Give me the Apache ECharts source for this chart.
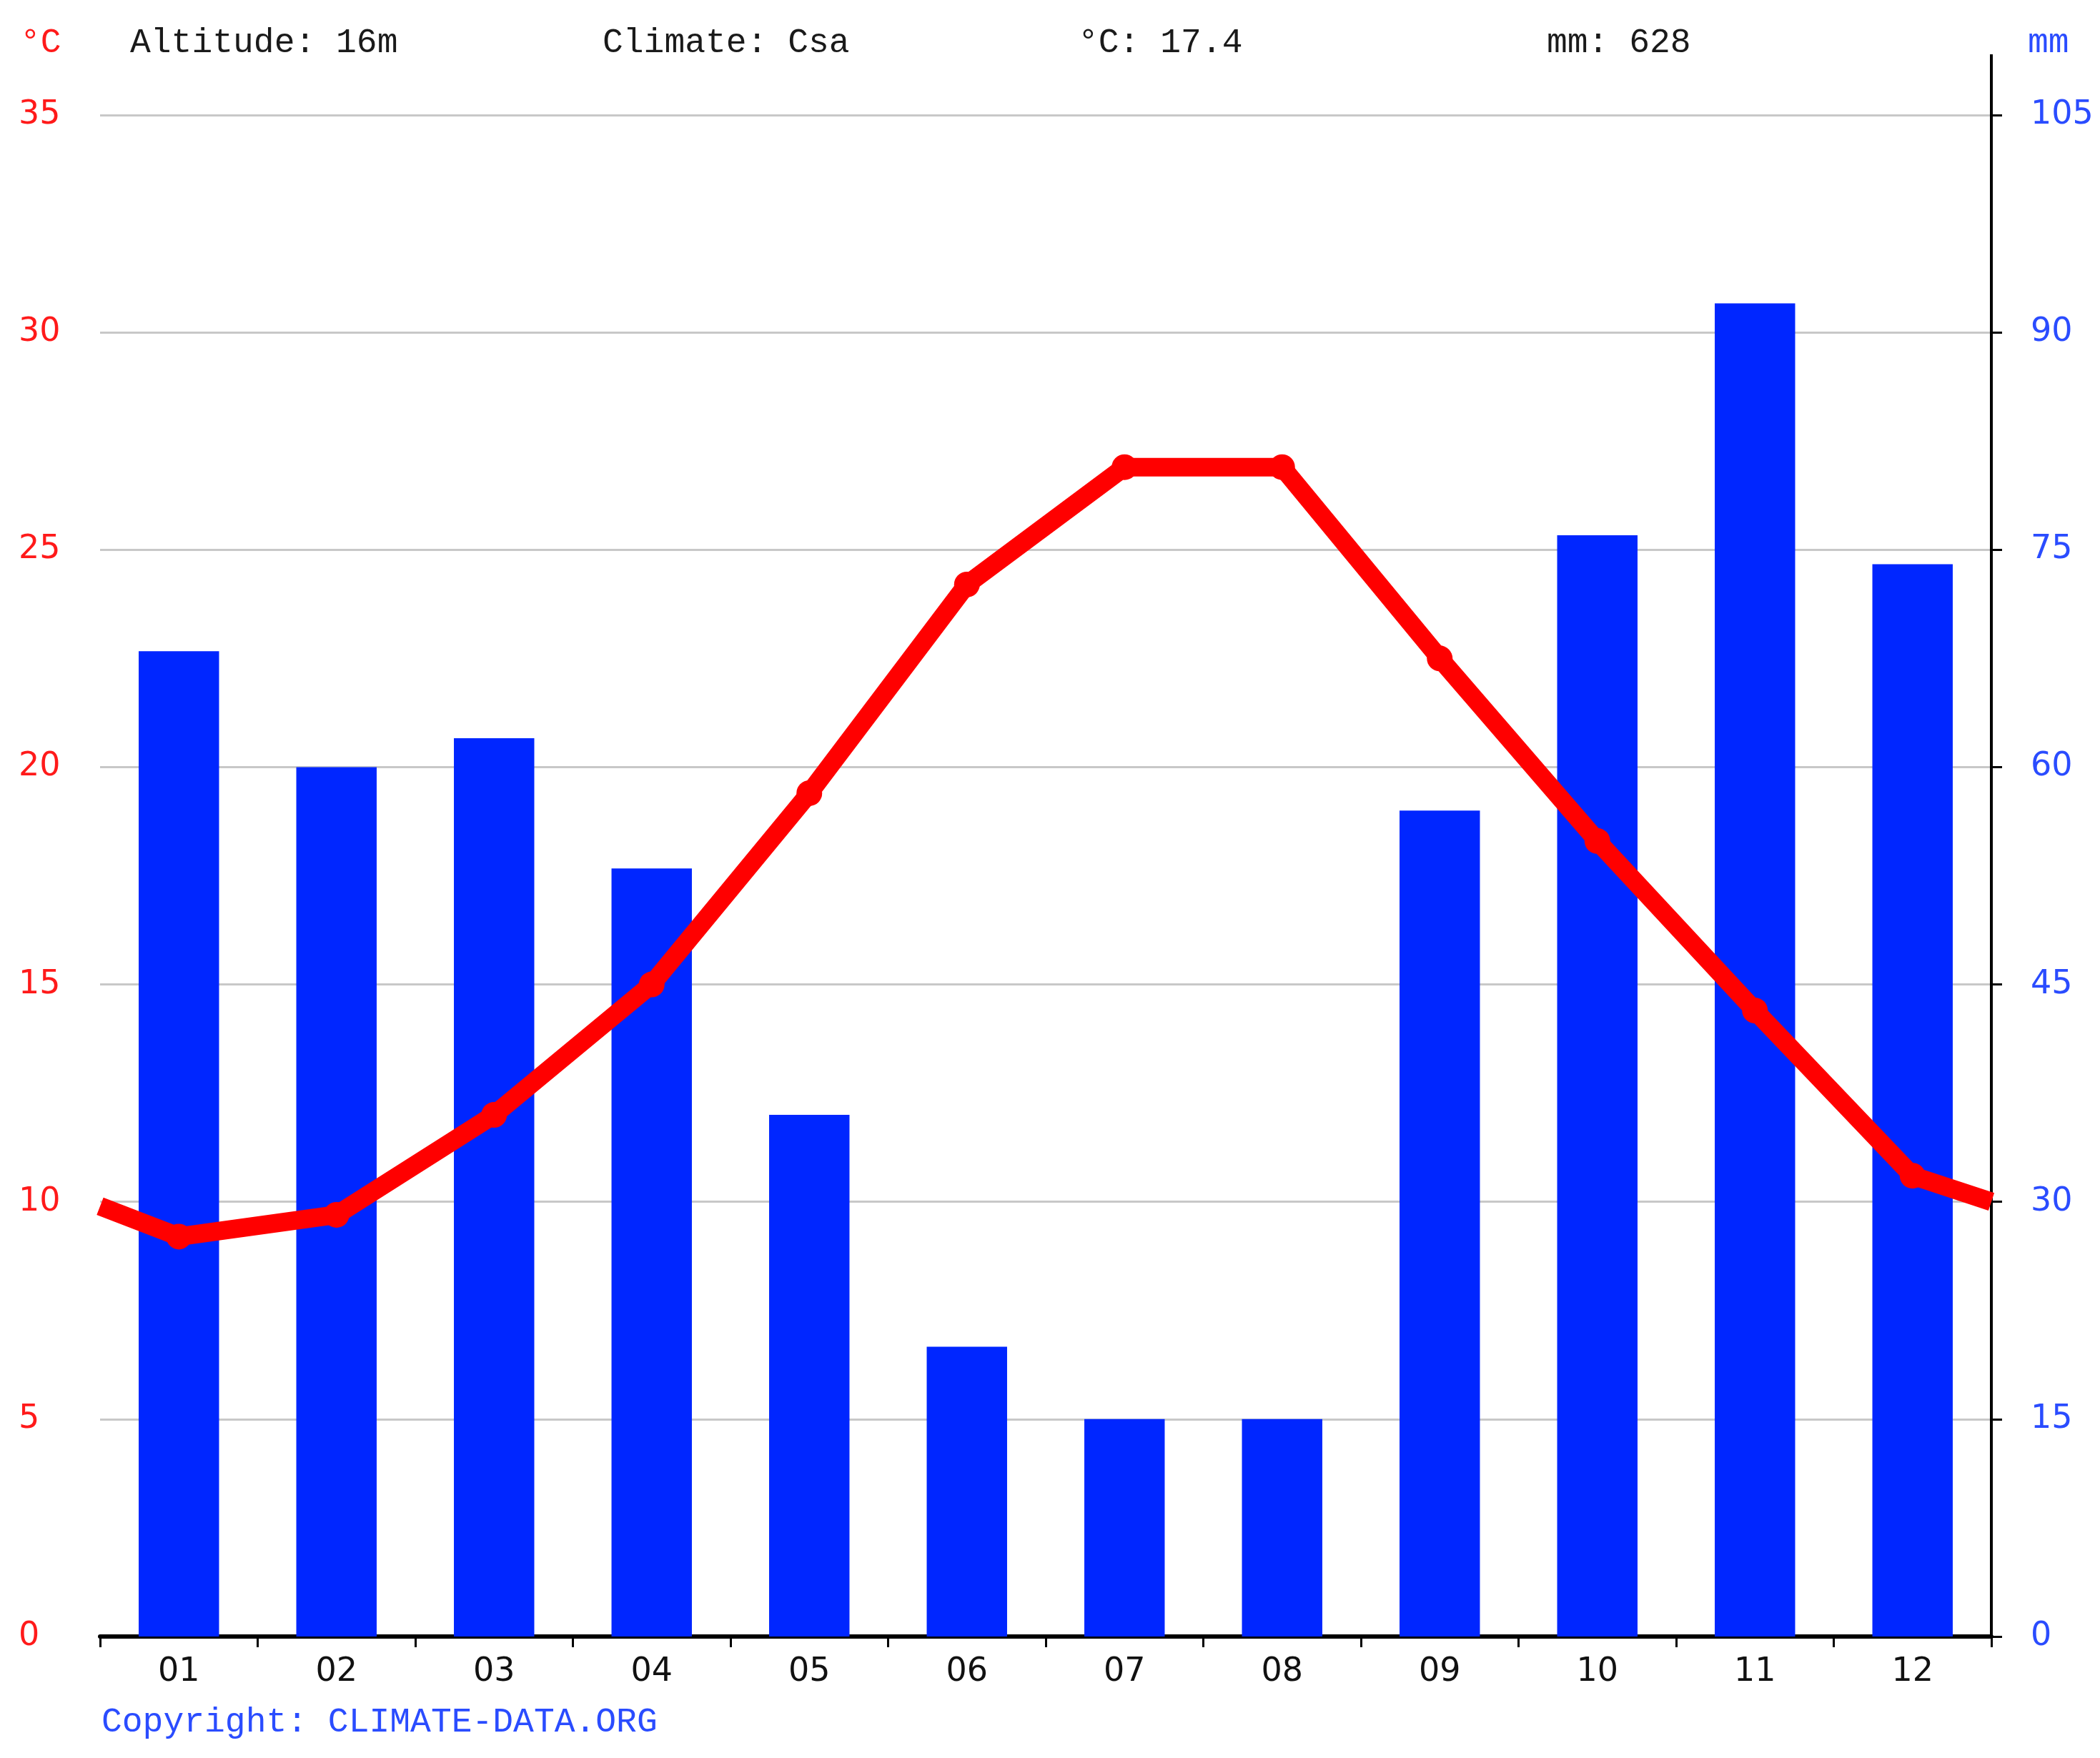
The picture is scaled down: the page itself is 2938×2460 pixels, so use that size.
<!DOCTYPE html>
<html><head><meta charset="utf-8">
<script src="https://cdn.jsdelivr.net/npm/echarts@6/dist/echarts.min.js"></script>
<style>html,body{margin:0;padding:0;background:#fff}#c{width:2938px;height:2460px}</style>
</head><body><div id="c"></div>
<script>
// ---- data ----
const months = ['01','02','03','04','05','06','07','08','09','10','11','12'];
const tempC = [9.2, 9.7, 12.0, 15.0, 19.4, 24.2, 26.9, 26.9, 22.5, 18.3, 14.4, 10.6];
const precipMm = [68, 60, 62, 53, 36, 20, 15, 15, 57, 76, 92, 74];
const tempEdgeStart = 9.9;   // line value at left plot edge
const tempEdgeEnd = 10.0;    // line value at right plot edge
const headerTexts = ['Altitude: 16m', 'Climate: Csa', '°C: 17.4', 'mm: 628'];
const copyrightText = 'Copyright: CLIMATE-DATA.ORG';
const tempUnit = '°C';
const precipUnit = 'mm';

// ---- styles ----
const RED = '#ff1a1a', BLUE = '#0026ff', LBLUE = '#2a4cff';
const tickFont = 'DejaVu Sans';
const headFont = 'Liberation Mono';
const GL = 140, GR = 2786, GT = 161, GB = 2290;

const lineData = [{value: [0, tempEdgeStart], symbol: 'none'}]
  .concat(tempC.map((t, i) => [i + 0.5, t]))
  .concat([{value: [months.length, tempEdgeEnd], symbol: 'none'}]);

const headerX = [182, 843, 1508, 2164];
const headerTop = 36;

const chart = echarts.init(document.getElementById('c'), null, {renderer: 'canvas'});
chart.setOption({
  animation: false,
  backgroundColor: '#fff',
  grid: {left: GL, right: 2938 - GR, top: GT, bottom: 2460 - GB, containLabel: false},
  xAxis: [{
    type: 'category', data: months, gridIndex: 0,
    axisLine: {show: true, lineStyle: {color: '#000', width: 6}},
    axisTick: {show: true, length: 15, lineStyle: {color: '#000', width: 3}},
    axisLabel: {color: '#111', fontFamily: tickFont, fontSize: 46, margin: 27},
    splitLine: {show: false}
  }, {
    type: 'value', min: 0, max: months.length, show: false, gridIndex: 0
  }],
  yAxis: [{
    type: 'value', min: 0, max: 35, interval: 5, position: 'left',
    axisLine: {show: false}, axisTick: {show: false},
    axisLabel: {color: RED, fontFamily: tickFont, fontSize: 46, align: 'left', margin: 114, padding: [8, 0, 0, 0]},
    splitLine: {show: true, lineStyle: {color: '#c8c8c8', width: 3}}
  }, {
    type: 'value', min: 0, max: 105, interval: 15, position: 'right',
    axisLine: {show: true, lineStyle: {color: '#000', width: 4}},
    axisTick: {show: true, length: 15, lineStyle: {color: '#000', width: 3}},
    axisLabel: {color: LBLUE, fontFamily: tickFont, fontSize: 46, align: 'left', margin: 55, padding: [8, 0, 0, 0]},
    splitLine: {show: false}
  }],
  series: [{
    type: 'bar', data: precipMm, xAxisIndex: 0, yAxisIndex: 1,
    barWidth: '51%', itemStyle: {color: BLUE}, z: 2
  }, {
    type: 'line', data: lineData, xAxisIndex: 1, yAxisIndex: 0,
    symbol: 'circle', symbolSize: 36,
    lineStyle: {color: '#ff0000', width: 26, join: 'round'},
    itemStyle: {color: '#ff0000'}, z: 5
  }],
  graphic: [
    {type: 'line', shape: {x1: GR, y1: 76, x2: GR, y2: GT}, style: {stroke: '#000', lineWidth: 4}, z: 10},
    {type: 'text', left: 28, top: headerTop, style: {text: tempUnit, fill: RED, font: '48px "' + headFont + '"'}},
    {type: 'text', left: 2837, top: headerTop, style: {text: precipUnit, fill: LBLUE, font: '48px "' + headFont + '"'}},
  ].concat(headerTexts.map((t, i) => ({
    type: 'text', left: headerX[i], top: headerTop, style: {text: t, fill: '#1a1a1a', font: '48px "' + headFont + '"'}
  }))).concat([
    {type: 'text', left: 142, top: 2386, style: {text: copyrightText, fill: LBLUE, font: '48px "' + headFont + '"'}}
  ])
});
</script></body></html>
